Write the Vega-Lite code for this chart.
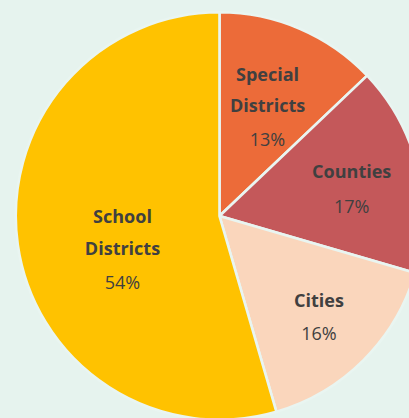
{
  "$schema": "https://vega.github.io/schema/vega-lite/v6.json",
  "width": 379,
  "height": 404,
  "padding": {"left": 30, "top": 14, "right": 0, "bottom": 0},
  "autosize": {"type": "none"},
  "background": "#E6F3EE",
  "config": {"view": {"stroke": null}},
  "data": {
    "values": [
      {"cat": "Special Districts", "value": 12.9, "pct": "13%", "ord": 1},
      {"cat": "Counties", "value": 16.6, "pct": "17%", "ord": 2},
      {"cat": "Cities", "value": 16.0, "pct": "16%", "ord": 3},
      {"cat": "School Districts", "value": 54.5, "pct": "54%", "ord": 4}
    ]
  },
  "encoding": {
    "theta": {"field": "value", "type": "quantitative", "stack": true},
    "order": {"field": "ord", "type": "quantitative"}
  },
  "layer": [
    {
      "mark": {"type": "arc", "outerRadius": 203.75, "stroke": "#E9F5F1", "strokeWidth": 2.6},
      "encoding": {
        "color": {
          "field": "cat", "type": "nominal",
          "scale": {"domain": ["Special Districts", "Counties", "Cities", "School Districts"], "range": ["#EC6B39", "#C4585A", "#FAD6BC", "#FFC200"]},
          "legend": null
        }
      }
    },
    {
      "mark": {"type": "text", "radius": 121, "font": "Open Sans", "fontSize": 18, "fontWeight": "bold", "color": "#404040", "baseline": "alphabetic", "lineBreak": " ", "lineHeight": 31, "dx": 0.3, "dy": -24.1},
      "encoding": {"text": {"condition": {"test": "datum.cat === 'Special Districts'", "field": "cat"}, "value": ""}}
    },
    {
      "mark": {"type": "text", "radius": 121, "font": "Open Sans", "fontSize": 18, "color": "#404040", "baseline": "alphabetic", "dx": 0.3, "dy": 40.9},
      "encoding": {"text": {"condition": {"test": "datum.cat === 'Special Districts'", "field": "pct"}, "value": ""}}
    },
    {
      "mark": {"type": "text", "radius": 134, "font": "Open Sans", "fontSize": 18, "fontWeight": "bold", "color": "#404040", "baseline": "alphabetic", "dx": 2, "dy": -6.3},
      "encoding": {"text": {"condition": {"test": "datum.cat === 'Counties'", "field": "cat"}, "value": ""}}
    },
    {
      "mark": {"type": "text", "radius": 134, "font": "Open Sans", "fontSize": 18, "color": "#404040", "baseline": "alphabetic", "dx": 2, "dy": 29},
      "encoding": {"text": {"condition": {"test": "datum.cat === 'Counties'", "field": "pct"}, "value": ""}}
    },
    {
      "mark": {"type": "text", "radius": 146.5, "font": "Open Sans", "fontSize": 18, "fontWeight": "bold", "color": "#404040", "baseline": "alphabetic", "dx": -4.1, "dy": -12.9},
      "encoding": {"text": {"condition": {"test": "datum.cat === 'Cities'", "field": "cat"}, "value": ""}}
    },
    {
      "mark": {"type": "text", "radius": 146.5, "font": "Open Sans", "fontSize": 18, "color": "#404040", "baseline": "alphabetic", "dx": -4.1, "dy": 20.4},
      "encoding": {"text": {"condition": {"test": "datum.cat === 'Cities'", "field": "pct"}, "value": ""}}
    },
    {
      "mark": {"type": "text", "radius": 100, "font": "Open Sans", "fontSize": 18, "fontWeight": "bold", "color": "#404040", "baseline": "alphabetic", "lineBreak": " ", "lineHeight": 32, "dx": 2, "dy": -6.6},
      "encoding": {"text": {"condition": {"test": "datum.cat === 'School Districts'", "field": "cat"}, "value": ""}}
    },
    {
      "mark": {"type": "text", "radius": 100, "font": "Open Sans", "fontSize": 18, "color": "#404040", "baseline": "alphabetic", "dx": 2, "dy": 58.9},
      "encoding": {"text": {"condition": {"test": "datum.cat === 'School Districts'", "field": "pct"}, "value": ""}}
    }
  ]
}
